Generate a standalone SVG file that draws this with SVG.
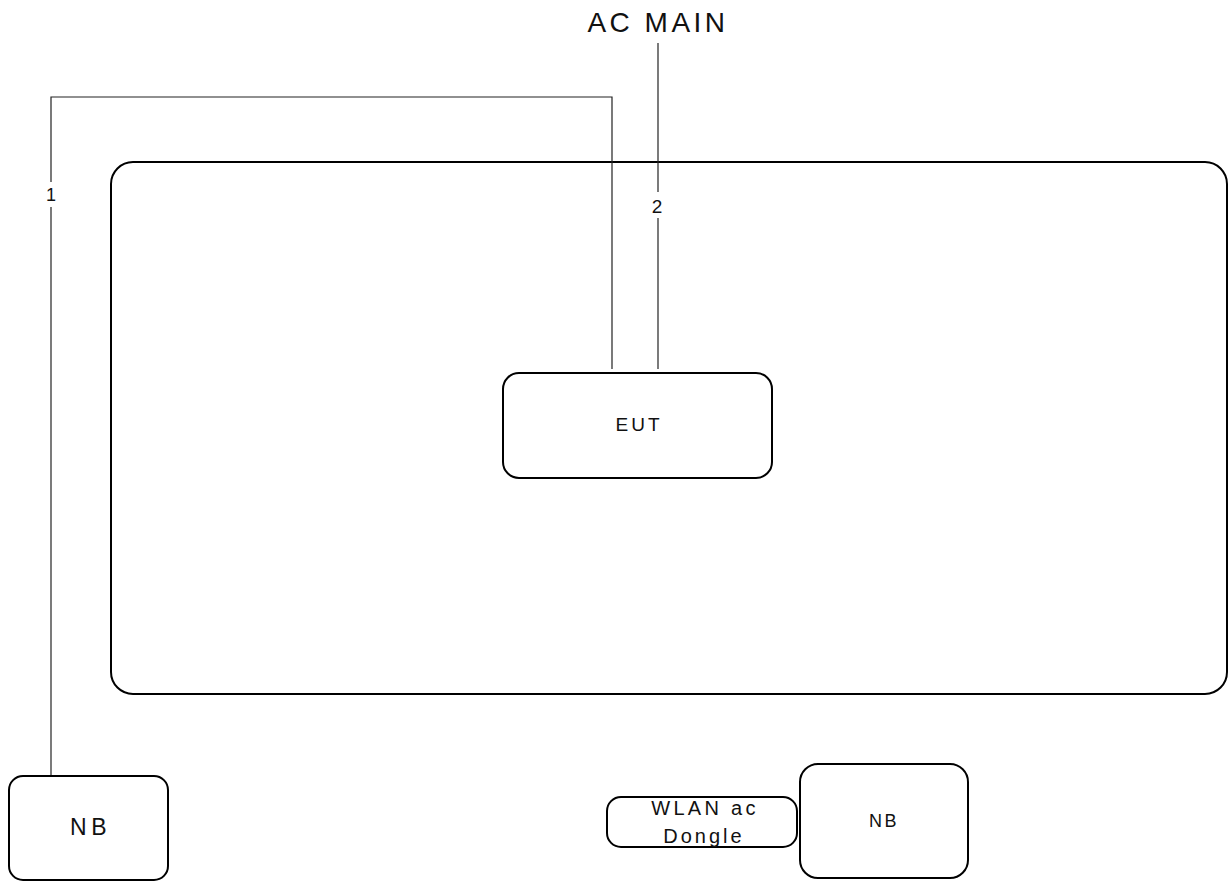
<svg xmlns="http://www.w3.org/2000/svg" width="1231" height="881" viewBox="0 0 1231 881">
<style>
.box{fill:#fff;stroke:#000;stroke-width:2}
.wire{fill:none;stroke:#222;stroke-width:1.2}
text{font-family:"Liberation Sans",Arial,sans-serif;fill:#111;text-anchor:middle}
</style>
<rect width="1231" height="881" fill="#fff"/>
<g id="enclosure"><rect class="box" x="111" y="162" width="1116" height="532" rx="22"/></g>
<g id="connectors">
<polyline class="wire" points="51,182 51,97 612,97 612,369"/>
<line class="wire" x1="51" y1="207" x2="51" y2="776"/>
<line class="wire" x1="658" y1="43" x2="658" y2="192"/>
<line class="wire" x1="658" y1="218" x2="658" y2="369"/>
<text x="51" y="201" font-size="18">1</text>
<text x="657" y="213" font-size="19">2</text>
</g>
<g id="ac-main"><text x="658" y="32" font-size="28" letter-spacing="3.5">AC MAIN</text></g>
<g id="eut"><rect class="box" x="503" y="373" width="269" height="105" rx="16"/><text x="639" y="431" font-size="19" letter-spacing="3">EUT</text></g>
<g id="nb-left"><rect class="box" x="9" y="776" width="159" height="104" rx="14"/><text x="90.5" y="835" font-size="23" letter-spacing="4.5">NB</text></g>
<g id="dongle"><rect class="box" x="607" y="797" width="190" height="50" rx="14"/><text x="705" y="815" font-size="20" letter-spacing="3.3">WLAN ac</text><text x="704" y="843" font-size="20" letter-spacing="3">Dongle</text></g>
<g id="nb-right"><rect class="box" x="800" y="764" width="168" height="114" rx="18"/><text x="884" y="827" font-size="18" letter-spacing="2.5">NB</text></g>
</svg>
